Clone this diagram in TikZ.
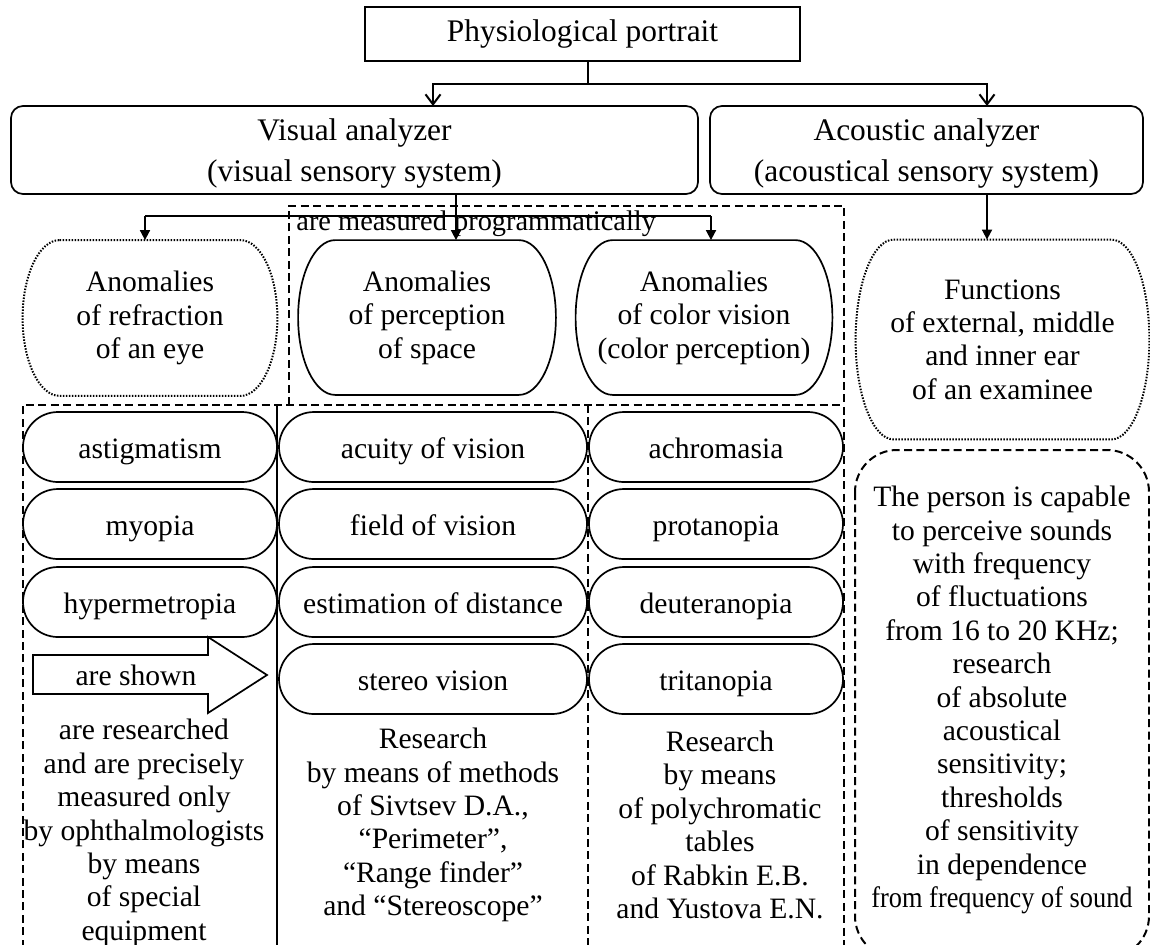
\documentclass[tikz,border=0pt]{standalone}
\usepackage{fontspec}
\setmainfont{Liberation Serif}
\usepackage{graphicx}
\usepackage{tikz}
\usetikzlibrary{arrows.meta,calc}

\tikzset{
  box/.style={draw, line width=0.85pt, align=center, inner sep=0pt},
  big/.style={font=\fontsize{15.7}{20.5}\selectfont},
  oval/.style={align=center, inner sep=0pt},
  pill/.style={draw, line width=0.85pt, rounded corners=17.5pt, minimum height=35pt, inner sep=0pt,
    text height=14pt, text depth=3pt},
  frame/.style={line width=1pt, dash pattern=on 4pt off 2.2pt},
  dots/.style={line width=1pt, dash pattern=on 0.75pt off 0.75pt},
  barb/.style={line width=0.85pt, -{Straight Barb[length=5pt,width=7.5pt,line width=1pt]}},
  tri/.style={line width=0.85pt, -{Triangle[length=5pt,width=5pt]}},
}

% outline with elliptic ends round a named node
\newcommand{\bulge}[3][]{%
  \draw[line width=0.85pt,#1] let \p1=(#2.north west), \p2=(#2.south east) in
    (\x1+#3,\y1) -- (\x2-#3,\y1)
    arc[start angle=90, end angle=-90, x radius=#3, y radius={(\y1-\y2)/2}]
    -- (\x1+#3,\y2)
    arc[start angle=270, end angle=90, x radius=#3, y radius={(\y1-\y2)/2}] -- cycle;}

\begin{document}
\begin{tikzpicture}[x=0.5pt,y=-0.5pt,font=\fontsize{14.8}{16.7}\selectfont]
  \useasboundingbox (0,0) rectangle (1150,944);

  % portrait and analyzers
  \node[box,big,minimum width=217.5pt,minimum height=27pt] (portrait) at (582.5,34) {Physiological portrait};
  \node[box,big,rounded corners=6pt,minimum width=343.5pt,minimum height=44pt] (visual) at (354.5,150) {\rule{0pt}{14pt}Visual analyzer\\(visual sensory system)};
  \node[box,big,rounded corners=6pt,minimum width=216.5pt,minimum height=44pt] (acoustic) at (926.5,150) {\rule{0pt}{14pt}Acoustic analyzer\\(acoustical sensory system)};

  \coordinate (split) at (588,84);
  \coordinate (va) at (433,106);
  \coordinate (aa) at (987,106);
  \draw[line width=0.85pt] (portrait.south -| split) -- (split);
  \draw[barb] (split) -| (va);
  \draw[barb] (split) -| (aa);

  % anomalies
  \node[oval,minimum width=127pt,minimum height=77.5pt] (refraction) at (150,318) {Anomalies\\of refraction\\of an eye};
  \node[oval,minimum width=128.5pt,minimum height=77pt] (perception) at (427,317.5) {Anomalies\\of perception\\of space};
  \node[oval,minimum width=128pt,minimum height=77pt] (color) at (704,317.5) {Anomalies\\of color vision\\(color perception)};
  \node[oval,minimum width=146.5pt,minimum height=99.5pt] (functions) at (1002.5,339.5) {Functions\\of external, middle\\and inner ear\\of an examinee};
  \bulge[dots]{refraction}{18.5pt}
  \bulge{perception}{18.5pt}
  \bulge{color}{18.5pt}
  \bulge[dots]{functions}{19pt}

  \coordinate (vdrop) at (456,216);
  \coordinate (rin) at (145,216);
  \coordinate (cin) at (711,216);
  \draw[tri] (visual.south -| vdrop) -- (perception.north -| vdrop);
  \draw[line width=0.85pt] (rin) -- (cin);
  \draw[tri] (rin) -- (refraction.north -| rin);
  \draw[tri] (cin) -- (color.north -| cin);
  \draw[tri] (acoustic.south -| aa) -- (functions.north -| aa);

  % frames
  \draw[frame] (289,405) -- (289,206) -- (844,206) -- (844,960);
  \draw[frame] (23,960) -- (23,405) -- (844,405);
  \draw[frame] (588,405) -- (588,960);
  \draw[line width=1.4pt] (277,405) -- (277,960);
  \node[anchor=west,inner sep=0pt,font=\fontsize{14.2}{16}\selectfont] (prog) at (296,224) {are measured programmatically};

  % kinds of anomalies
  \node[pill,minimum width=127pt] (astig) at (150,447) {astigmatism};
  \node[pill,minimum width=127pt] (myopia) at (150,524) {myopia};
  \node[pill,minimum width=127pt] (hyper) at (150,602) {hypermetropia};
  \node[pill,minimum width=154pt] (acuity) at (433,447) {acuity of vision};
  \node[pill,minimum width=154pt] (field) at (433,524) {field of vision};
  \node[pill,minimum width=154pt] (distance) at (433,602) {estimation of distance};
  \node[pill,minimum width=154pt] (stereo) at (433,679) {stereo vision};
  \node[pill,minimum width=127pt] (achrom) at (716,447) {achromasia};
  \node[pill,minimum width=127pt] (prot) at (716,524) {protanopia};
  \node[pill,minimum width=127pt] (deut) at (716,602) {deuteranopia};
  \node[pill,minimum width=127pt] (trit) at (716,679) {tritanopia};

  % are shown
  \draw[line width=0.85pt] (33,655) -- (208,655) -- (208,637) -- (267,675) -- (208,713) -- (208,694) -- (33,694) -- cycle;
  \node (shown) at (136,675) {are shown};

  % methods
  \node[align=center] (eyedoc) at (144,833) {are researched\\and are precisely\\measured only\\by ophthalmologists\\by means\\of special\\equipment};
  \node[align=center] (sivtsev) at (433,825) {Research\\by means of methods\\of Sivtsev D.A.,\\“Perimeter”,\\“Range finder”\\and “Stereoscope”};
  \node[align=center] (rabkin) at (720,825) {Research\\by means\\of polychromatic\\tables\\of Rabkin E.B.\\and Yustova E.N.};

  % hearing
  \draw[frame,rounded corners=21pt] (855,450) rectangle (1149,958);
  \node[align=center] (hearing) at (1002,700) {The person is capable\\to perceive sounds\\with frequency\\of fluctuations\\from 16 to 20 KHz;\\research\\of absolute\\acoustical\\sensitivity;\\thresholds\\of sensitivity\\in dependence\\\scalebox{0.89}[1]{from frequency of sound}};
\end{tikzpicture}
\end{document}
